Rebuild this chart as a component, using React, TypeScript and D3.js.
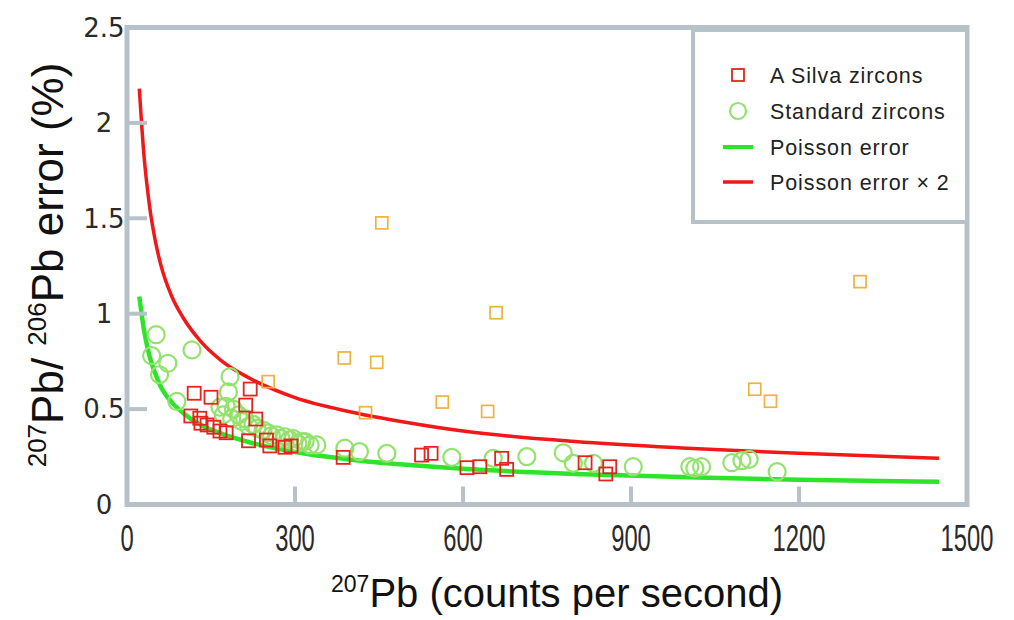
import React from 'react';
import * as d3 from 'd3';

// Poisson error curves
const curveX = [22, 30, 40, 50, 60, 80, 100, 130, 170, 220, 300, 400, 500, 600, 800, 1000, 1200, 1450];
const poissonErr = [1.09, 0.92, 0.78, 0.69, 0.62, 0.535, 0.48, 0.42, 0.37, 0.325, 0.275, 0.235, 0.208, 0.187, 0.16, 0.143, 0.13, 0.119];
const poissonErr2 = [2.18, 1.84, 1.57, 1.39, 1.26, 1.09, 0.98, 0.86, 0.75, 0.66, 0.56, 0.485, 0.43, 0.385, 0.33, 0.295, 0.268, 0.242];

// Standard zircons (green circles)
const standardX = [52, 44, 73, 58, 116, 89, 184, 181,
  166, 177, 190, 172, 187, 199, 205, 217, 232, 243, 252, 267, 282, 297, 312, 327, 339,
  210, 225, 258, 275, 290, 305, 318,
  389, 415, 464, 580, 654, 714, 779, 797, 833, 904,
  1005, 1014, 1026, 1080, 1098, 1111, 1161];
const standardY = [0.89, 0.78, 0.74, 0.68, 0.81, 0.54, 0.67, 0.59,
  0.51, 0.515, 0.50, 0.47, 0.45, 0.47, 0.435, 0.41, 0.40, 0.39, 0.375, 0.365, 0.355, 0.345, 0.33, 0.312, 0.312,
  0.45, 0.42, 0.36, 0.345, 0.34, 0.32, 0.33,
  0.295, 0.277, 0.268, 0.247, 0.242, 0.251, 0.271, 0.216, 0.216, 0.198,
  0.198, 0.19, 0.198, 0.219, 0.23, 0.237, 0.172];

// A Silva zircons (red squares)
const silvaX = [120, 150, 220, 212, 230, 114, 130, 132, 143, 155, 166, 177, 217, 249, 255, 282, 293,
  386, 526, 543, 607, 630, 669, 678, 818, 862, 855];
const silvaY = [0.583, 0.562, 0.605, 0.521, 0.448, 0.464, 0.452, 0.426, 0.417, 0.405, 0.385, 0.376, 0.334, 0.338, 0.307, 0.30, 0.307,
  0.247, 0.259, 0.268, 0.193, 0.198, 0.242, 0.184, 0.219, 0.198, 0.16];

// Other points (orange squares)
const otherX = [455, 1309, 659, 388, 446, 426, 563, 644, 1121, 1149, 252];
const otherY = [1.476, 1.168, 1.005, 0.768, 0.745, 0.481, 0.537, 0.488, 0.604, 0.541, 0.644];

const xTicks = [0, 300, 600, 900, 1200, 1500];
const yTicks = [0, 0.5, 1, 1.5, 2, 2.5];
const legendLabels = ['A Silva zircons', 'Standard zircons', 'Poisson error', 'Poisson error \u00d7 2'];

const FRAME = '#b6c2c8';
const GREEN_LINE = '#2de42a';
const RED_LINE = '#f01818';
const CIRCLE = '#93e26d';
const SQUARE = '#e2261f';
const ORANGE = '#f0b23c';

export default function App() {
  const W = 1014, H = 620;
  const x = d3.scaleLinear().domain([0, 1500]).range([127, 967]);
  const y = d3.scaleLinear().domain([0, 2.5]).range([504.5, 27.5]);

  const line = d3.line<[number, number]>()
    .x(d => x(d[0])).y(d => y(d[1]))
    .curve(d3.curveMonotoneX);
  const greenPath = line(curveX.map((v, i) => [v, poissonErr[i]] as [number, number])) || '';
  const redPath = line(curveX.map((v, i) => [v, poissonErr2[i]] as [number, number])) || '';

  const lg = { x0: 693, y0: 30, x1: 967, y1: 222 };
  const rowY = [75, 111, 147, 182];

  return (
    <svg width={W} height={H} style={{ position: 'absolute', left: 0, top: 0, background: '#fff' }}
      fontFamily="'Liberation Sans', Arial, sans-serif">
      {/* curves */}
      <path d={greenPath} fill="none" stroke={GREEN_LINE} strokeWidth={4.5} />
      <path d={redPath} fill="none" stroke={RED_LINE} strokeWidth={3.5} />

      {/* standard zircons */}
      {standardX.map((v, i) => (
        <circle key={'c' + i} cx={x(v)} cy={y(standardY[i])} r={8.5} fill="none" stroke={CIRCLE} strokeWidth={2.2} />
      ))}
      {/* A Silva zircons */}
      {silvaX.map((v, i) => (
        <rect key={'s' + i} x={x(v) - 6.5} y={y(silvaY[i]) - 6.5} width={13} height={13} fill="none" stroke={SQUARE} strokeWidth={1.8} />
      ))}
      {/* other */}
      {otherX.map((v, i) => (
        <rect key={'o' + i} x={x(v) - 6} y={y(otherY[i]) - 6} width={12} height={12} fill="none" stroke={ORANGE} strokeWidth={1.7} />
      ))}

      {/* frame */}
      <rect x={x(0)} y={y(2.5)} width={x(1500) - x(0)} height={y(0) - y(2.5)} fill="none" stroke={FRAME} strokeWidth={5} />
      {yTicks.filter(t => t > 0 && t < 2.5).map(t => (
        <line key={'yt' + t} x1={x(0)} x2={x(0) + 20} y1={y(t)} y2={y(t)} stroke={FRAME} strokeWidth={4} />
      ))}
      {xTicks.filter(t => t > 0 && t < 1500).map(t => (
        <line key={'xt' + t} x1={x(t)} x2={x(t)} y1={y(0)} y2={y(0) - 18} stroke={FRAME} strokeWidth={4} />
      ))}

      {/* tick labels */}
      {yTicks.map(t => (
        <text key={'yl' + t} x={104} y={y(t)} dy="0.36em" textAnchor="middle" fontSize={26}
          fontFamily="'DejaVu Sans', sans-serif" fill="#2a2a2a">{String(t)}</text>
      ))}
      {xTicks.map(t => (
        <text key={'xl' + t} transform={`translate(${x(t)},551) scale(0.66,1)`} textAnchor="middle" fontSize={36} fill="#2a2a2a">{String(t)}</text>
      ))}

      {/* axis titles */}
      <text x={557} y={607} textAnchor="middle" fontSize={40} fill="#111">
        <tspan fontSize={23} dy={-15}>207</tspan><tspan dy={15}>Pb (counts per second)</tspan>
      </text>
      <text transform="translate(63,265) rotate(-90)" textAnchor="middle" fontSize={44} fill="#111">
        <tspan fontSize={26} dy={-17}>207</tspan><tspan dy={17}>Pb/ </tspan>
        <tspan fontSize={26} dy={-17}>206</tspan><tspan dy={17}>Pb error (%)</tspan>
      </text>

      {/* legend */}
      <rect x={lg.x0} y={lg.y0} width={lg.x1 - lg.x0} height={lg.y1 - lg.y0} fill="#fff" stroke={FRAME} strokeWidth={4} />
      <rect x={738 - 6} y={rowY[0] - 6} width={12} height={12} fill="none" stroke={SQUARE} strokeWidth={1.8} />
      <circle cx={738} cy={rowY[1]} r={8} fill="none" stroke={CIRCLE} strokeWidth={2.2} />
      <line x1={723} x2={753} y1={rowY[2]} y2={rowY[2]} stroke={GREEN_LINE} strokeWidth={4} />
      <line x1={723} x2={753} y1={rowY[3]} y2={rowY[3]} stroke={RED_LINE} strokeWidth={3.5} />
      {legendLabels.map((l, i) => (
        <text key={'lg' + i} x={770} y={rowY[i]} dy="0.36em" fontSize={21.5} letterSpacing={0.9} fill="#222">{l}</text>
      ))}
    </svg>
  );
}
